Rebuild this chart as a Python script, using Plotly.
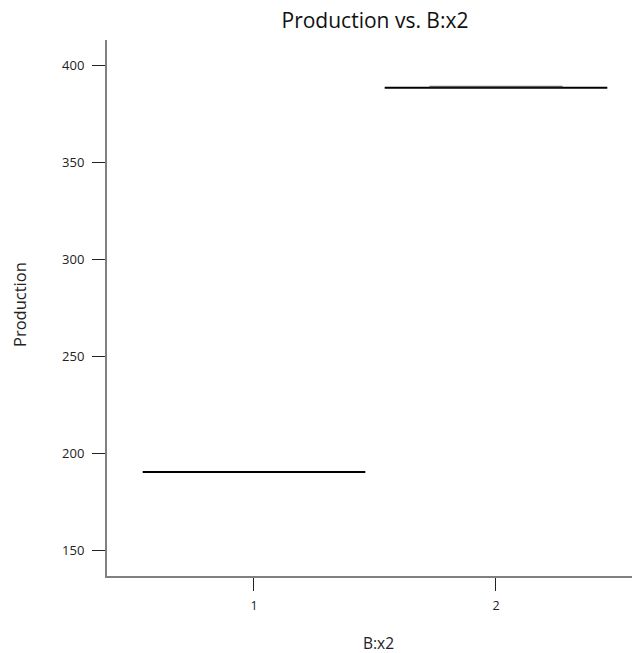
import plotly.graph_objects as go

categories = [1, 2]
tick_labels = ["1", "2"]
production = [190.2, 388.3]
overlay_cat = [2]
overlay_val = [388.8]

half_w = 0.46
overlay_half_w = 0.275

fig = go.Figure()
for c, v in zip(categories, production):
    fig.add_trace(go.Scatter(x=[c - half_w, c + half_w], y=[v, v], mode="lines",
                             line=dict(color="black", width=2), showlegend=False,
                             hoverinfo="skip"))
for c, v in zip(overlay_cat, overlay_val):
    fig.add_trace(go.Scatter(x=[c - overlay_half_w, c + overlay_half_w], y=[v, v], mode="lines",
                             line=dict(color="#222", width=2), opacity=0.6, showlegend=False,
                             hoverinfo="skip"))

font = "Open Sans, Noto Sans, DejaVu Sans, sans-serif"
L, R, T, B = 107, 0, 40, 77
W, H = 632, 653
pw, ph = W - L - R, H - T - B

fig.update_layout(
    width=W, height=H,
    margin=dict(l=L, r=R, t=T, b=B, autoexpand=False),
    paper_bgcolor="white", plot_bgcolor="white",
    font=dict(family=font, color="#222"),
    hovermode=False,
    title=dict(text="Production vs. B:x2", x=375 / W, xanchor="center", y=1 - 21 / H, yanchor="middle",
               font=dict(size=21, color="#111")),
    xaxis=dict(range=[0.3926, 2.562], tickvals=categories, ticktext=tick_labels, automargin=False,
               showgrid=False, zeroline=False, showline=True, linecolor="#808080", linewidth=2,
               ticks="outside", ticklen=13, tickcolor="#222", tickwidth=1, ticklabelstandoff=4,
               tickfont=dict(size=12.5, color="#222")),
    yaxis=dict(range=[136.6, 412.9], tickvals=[150, 200, 250, 300, 350, 400], automargin=False,
               showgrid=False, zeroline=False, showline=True, linecolor="#808080", linewidth=2,
               ticks="outside", ticklen=13, tickcolor="#222", tickwidth=1, ticklabelstandoff=5,
               tickfont=dict(size=13, color="#222")),
    annotations=[
        dict(text="B:x2", xref="paper", yref="paper", x=(378 - L) / pw, y=-(643 - (H - B)) / ph,
             xanchor="center", yanchor="middle", showarrow=False,
             font=dict(size=15.5, color="#222")),
        dict(text="Production", xref="paper", yref="paper", x=-(L - 19) / pw, y=(H - B - 305) / ph,
             xanchor="center", yanchor="middle", showarrow=False, textangle=-90,
             font=dict(size=16.5, color="#222")),
    ],
)

fig.write_html("out.html", config={"displayModeBar": False},
               post_script="document.body.style.margin='0';document.body.style.overflow='hidden';")
